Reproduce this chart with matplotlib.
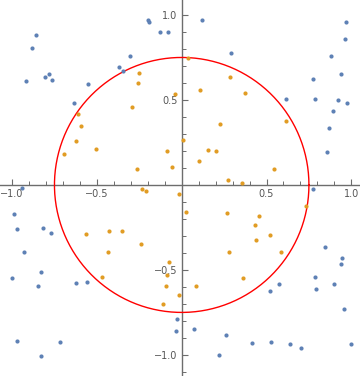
import matplotlib
matplotlib.use("Agg")
import matplotlib.pyplot as plt
import numpy as np
from matplotlib.ticker import MultipleLocator

radius = 0.75

outside_x = [-0.198, -0.19, -0.126, -0.079, -0.857, -0.881, -0.303, -0.368, -0.344, -0.784,
             -0.804, -0.763, -0.920, -0.551, -0.633, -0.94,
             0.122, 0.971, 0.965, 0.293, 0.882, 0.941, 0.776, 0.615, 0.788, 0.923,
             0.976, 0.894, 0.870, 0.859, 0.776,
             -0.987, -0.969, -0.816, -0.769, -0.928, -0.828, -0.999, -0.845, -0.621, -0.557,
             -0.969, -0.716, -0.828, -0.026, -0.032,
             0.847, 0.947, 0.941, 0.786, 0.900, 0.576, 0.794, 0.522, 0.959, 0.074,
             0.263, 0.416, 0.528, 0.640, 0.705, 1.0, 0.222]
outside_y = [0.973, 0.96, 0.898, 0.898, 0.881, 0.804, 0.757, 0.692, 0.671, 0.651,
             0.633, 0.616, 0.610, 0.592, 0.481, -0.02,
             0.969, 0.961, 0.857, 0.775, 0.757, 0.651, 0.622, 0.504, 0.504, 0.498,
             0.480, 0.433, 0.333, 0.192, -0.024,
             -0.172, -0.261, -0.255, -0.284, -0.396, -0.514, -0.549, -0.596, -0.578, -0.573,
             -0.919, -0.925, -1.008, -0.790, -0.861,
             -0.366, -0.431, -0.467, -0.543, -0.584, -0.584, -0.614, -0.625, -0.731, -0.849,
             -0.884, -0.931, -0.925, -0.937, -0.961, -0.937, -1.002]

inside_x = [-0.25, -0.256, -0.038, -0.291, -0.611, -0.592, -0.621, -0.503, -0.692, -0.085,
            -0.264, -0.055, -0.232,
            0.039, 0.287, 0.110, 0.375, 0.228, 0.617, 0.01, 0.157, 0.204, 0.104, 0.546,
            0.275, 0.357,
            -0.209, -0.018, -0.562, -0.427, -0.350, -0.238, -0.433, -0.073, -0.085, -0.468,
            -0.091, -0.018, -0.108,
            0.027, 0.269, 0.458, 0.735, 0.434, 0.522, 0.440, 0.281, 0.587, 0.363, 0.086]
inside_y = [0.657, 0.598, 0.534, 0.457, 0.416, 0.345, 0.257, 0.210, 0.18, 0.198,
            0.092, 0.104, -0.024,
            0.745, 0.633, 0.557, 0.539, 0.357, 0.375, 0.263, 0.204, 0.198, 0.139, 0.092,
            0.028, 0.010,
            -0.037, -0.055, -0.29, -0.272, -0.272, -0.349, -0.396, -0.455, -0.531, -0.543,
            -0.596, -0.649, -0.702,
            -0.161, -0.167, -0.184, -0.125, -0.237, -0.296, -0.325, -0.396, -0.396, -0.549, -0.596]

major_ticks = [-1.0, -0.5, 0.5, 1.0]
tick_labels = ["\u22121.0", "\u22120.5", "0.5", "1.0"]

fig = plt.figure(figsize=(3.6, 3.76), dpi=100)
ax = fig.add_axes([0, 0, 1, 1])
ax.set_xlim(-1.071, 1.051)
ax.set_ylim(-1.124, 1.088)

axcol = "#6d6d6d"
for side in ["top", "right"]:
    ax.spines[side].set_visible(False)
ax.spines["left"].set_position(("data", 0))
ax.spines["bottom"].set_position(("data", 0))
for side in ["left", "bottom"]:
    ax.spines[side].set_color(axcol)
    ax.spines[side].set_linewidth(1.0)
    ax.spines[side].set_zorder(1)

ax.set_xticks(major_ticks)
ax.set_xticklabels(tick_labels)
ax.set_yticks(major_ticks)
ax.set_yticklabels(tick_labels)
ax.xaxis.set_minor_locator(MultipleLocator(0.1))
ax.yaxis.set_minor_locator(MultipleLocator(0.1))
ax.tick_params(axis="x", which="both", direction="in", colors=axcol, labelcolor="#555555",
               labelsize=7, pad=3)
ax.tick_params(axis="y", which="both", direction="in", colors=axcol, labelcolor="#555555",
               labelsize=7, pad=3)
ax.tick_params(which="major", length=4.5, width=0.8)
ax.tick_params(which="minor", length=2.8, width=0.7)
ax.tick_params(axis="x", which="both", direction="out")
ax.tick_params(axis="x", which="both", direction="in")
# Mathematica-style: x ticks point up, y ticks point right
ax.xaxis.set_tick_params(which="both", direction="in")
ax.yaxis.set_tick_params(which="both", direction="in")

ax.scatter(outside_x, outside_y, s=9, color="#5E81B5", linewidths=0, zorder=3)
ax.scatter(inside_x, inside_y, s=9, color="#E19C24", linewidths=0, zorder=3)

theta = np.linspace(0, 2 * np.pi, 400)
ax.plot(radius * np.cos(theta), radius * np.sin(theta), color="#FF0000", lw=1.0, zorder=2)

fig.savefig("out.png", dpi=100)
